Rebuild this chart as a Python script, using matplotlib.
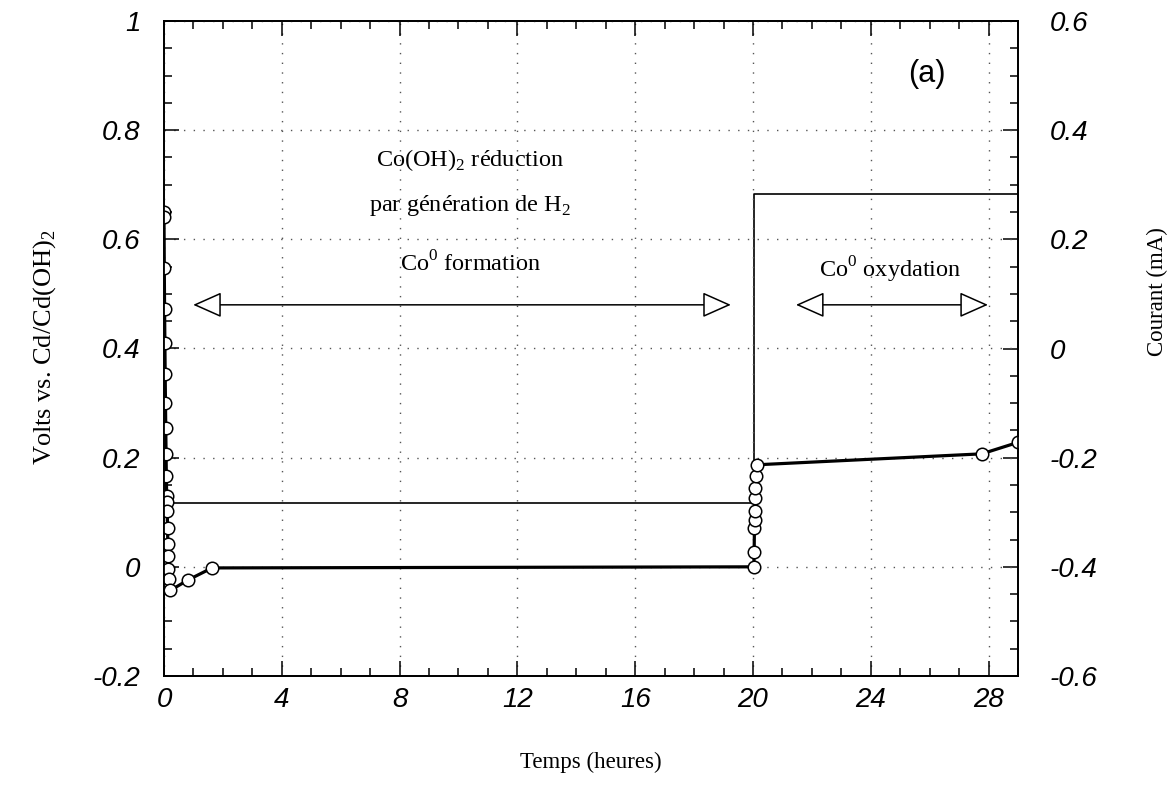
import matplotlib
matplotlib.use("Agg")
import matplotlib.pyplot as plt
import numpy as np

plt.rcParams['axes.unicode_minus'] = False
plt.rcParams['mathtext.fontset'] = 'custom'
plt.rcParams['mathtext.rm'] = 'Liberation Serif'

# voltage (Volts vs. Cd/Cd(OH)2) against time (hours)
t_volt = [0.0, 0.0, 0.01, 0.02, 0.03, 0.04, 0.05, 0.06, 0.07, 0.08, 0.09, 0.10,
          0.11, 0.12, 0.13, 0.14, 0.15, 0.16, 0.22, 0.82, 1.63,
          20.03, 20.04, 20.05, 20.06, 20.06, 20.07, 20.08, 20.09, 20.15,
          27.77, 29.0]
volts = [0.650, 0.640, 0.547, 0.473, 0.410, 0.354, 0.301, 0.255, 0.207, 0.166,
         0.130, 0.118, 0.103, 0.071, 0.042, 0.019, -0.004, -0.023, -0.043,
         -0.024, -0.002,
         0.000, 0.028, 0.071, 0.086, 0.102, 0.127, 0.144, 0.166, 0.187,
         0.207, 0.228]

# applied current (mA)
t_cur = [0.0, 20.05, 20.05, 29.0]
courant = [-0.283, -0.283, 0.283, 0.283]

xticks = [0, 4, 8, 12, 16, 20, 24, 28]
yticks_left = [-0.2, 0, 0.2, 0.4, 0.6, 0.8, 1]
yticks_right = [-0.6, -0.4, -0.2, 0, 0.2, 0.4, 0.6]

serif = 'Liberation Serif'
sans = 'Liberation Sans'

fig = plt.figure(figsize=(11.76, 7.98), dpi=100)
ax = fig.add_axes([164/1176, 1 - 676/798, (1018 - 164)/1176, (676 - 21)/798])
ax2 = ax.twinx()
ax.set_zorder(ax2.get_zorder() + 1)
ax.patch.set_visible(False)

ax2.plot(t_cur, courant, color='black', lw=1.2)
ax.plot(t_volt, volts, color='black', lw=2.3, marker='o', ms=9,
        mfc='white', mec='black', mew=1.1)

ax.set_xlim(0, 29)
ax.set_ylim(-0.2, 1)
ax2.set_ylim(-0.6, 0.6)

ax.set_xticks(xticks)
ax.set_xticks(np.arange(0, 30, 1), minor=True)
ax.set_yticks(yticks_left)
ax.set_yticks(np.arange(-0.2, 1.0001, 0.05), minor=True)
ax2.set_yticks(yticks_right)
ax2.set_yticks(np.arange(-0.6, 0.6001, 0.05), minor=True)

fmt = lambda v: '%g' % v
ax.set_xticklabels([fmt(v) for v in xticks])
ax.set_yticklabels([fmt(v) for v in yticks_left])
ax2.set_yticklabels([fmt(v) for v in yticks_right])

ax.tick_params(axis='x', which='both', direction='in', top=True, bottom=True)
ax.tick_params(axis='y', which='both', direction='in', left=True, right=False)
ax2.tick_params(axis='y', which='both', direction='in', right=True)
for a in (ax, ax2):
    a.tick_params(which='major', length=11, width=1.1)
    a.tick_params(which='minor', length=5.5, width=1.1)
ax.tick_params(axis='x', pad=8)
ax.tick_params(axis='y', pad=17)
ax2.tick_params(axis='y', pad=23)

for lab in ax.get_xticklabels() + ax.get_yticklabels() + ax2.get_yticklabels():
    lab.set_fontfamily(sans)
    lab.set_fontstyle('italic')
    lab.set_fontsize(20)

for a in (ax, ax2):
    for s in a.spines.values():
        s.set_linewidth(1.3)

ax.grid(True, which='major', linestyle=(0, (1, 6)), color='#555555', lw=1)

# axis labels
fig.text(0.502, 0.044, 'Temps (heures)', ha='center', va='center',
         family=serif, fontsize=16.5)
fig.text(0.038, 0.565, 'Volts vs. Cd/Cd(OH)$_2$', ha='center', va='center',
         rotation=90, family=serif, fontsize=19)
fig.text(0.984, 0.635, 'Courant (mA)', ha='center', va='center',
         rotation=90, family=serif, fontsize=16.5)

# annotations
ax.text(25.9, 0.903, '(a)', ha='center', va='center', family=sans, fontsize=22)
ax.text(10.4, 0.745, 'Co(OH)$_2$ réduction', ha='center', va='center',
        family=serif, fontsize=17.5)
ax.text(10.4, 0.662, 'par génération de H$_2$', ha='center', va='center',
        family=serif, fontsize=17.5)
ax.text(10.4, 0.555, 'Co$^0$ formation', ha='center', va='center',
        family=serif, fontsize=17.5)
ax.text(24.65, 0.545, 'Co$^0$ oxydation', ha='center', va='center',
        family=serif, fontsize=17.5)

arrow = dict(arrowstyle='<|-|>,head_length=0.9,head_width=0.4',
             fc='white', ec='black', lw=1.1, mutation_scale=20,
             shrinkA=0, shrinkB=0)
ax.annotate('', xy=(0.99, 0.48), xytext=(19.25, 0.48), arrowprops=arrow)
ax.annotate('', xy=(21.46, 0.48), xytext=(27.98, 0.48), arrowprops=arrow)

fig.savefig('out.png', dpi=100)
